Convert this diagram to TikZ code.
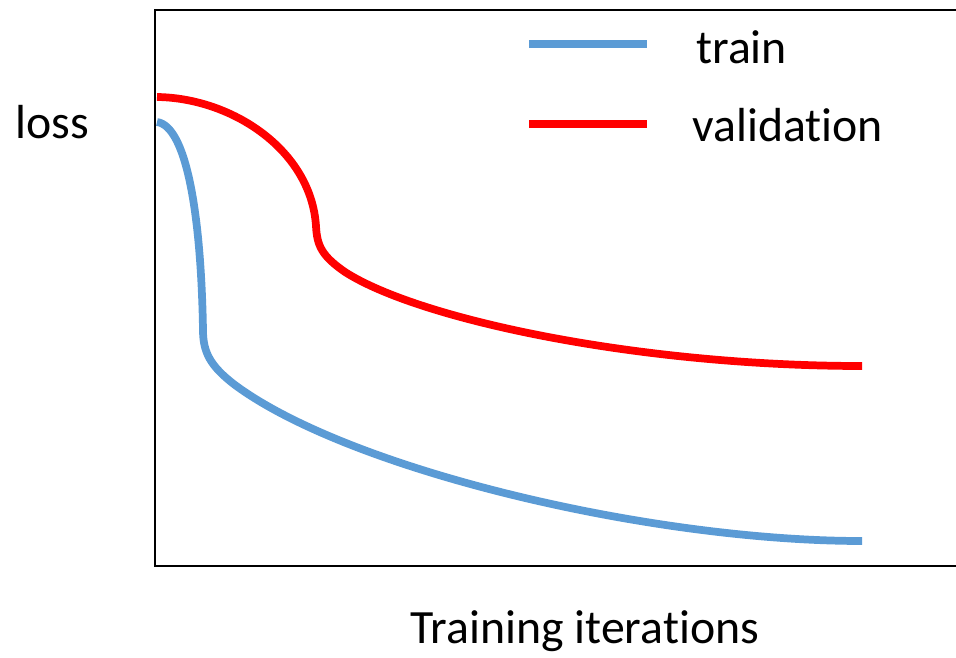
\documentclass[tikz,border=0pt]{standalone}
\usepackage{fontspec}
\setmainfont[RawFeature={-liga}]{Carlito}
\usetikzlibrary{calc}
\definecolor{trainblue}{RGB}{91,155,213}

\begin{document}
\begin{tikzpicture} [x=0.02cm, y=-0.02cm, font=\fontsize{27.2}{31}\selectfont]
\useasboundingbox (0,0) rectangle (956,658);
\coordinate (O) at (155,566);
% frame of the plot (right side runs off the page)
\draw[black, line width=1.6pt] (956,10) -- (155,10) -- (O) -- (956,566);
% curves
\draw[red, line width=4.4pt] (157,97) .. controls (232,98) and (311,150) .. (316,226)
 .. controls (317,246) and (322,256) .. (345,272)
 .. controls (420,320) and (640,366) .. (862,366);
\draw[trainblue, line width=4.4pt] (157,122) .. controls (186,126) and (201,212) .. (203,330)
 .. controls (203,352) and (210,366) .. (235,385)
 .. controls (350,470) and (650,541) .. (862,541);
% legend
\node[anchor=base west, inner sep=0] (train) at (696,64) {train};
\node[anchor=base west, inner sep=0] (valid) at (692,142) {validation};
\draw[trainblue, line width=4.5pt] (529,44) -- (647,44);
\draw[red, line width=4.5pt] (529,124) -- (647,124);
% axis labels
\node[anchor=base west, inner sep=0] (loss) at (15,139) {loss};
\node[anchor=base west, inner sep=0] (iter) at (410,643) {Training iterations};
\end{tikzpicture}
\end{document}
